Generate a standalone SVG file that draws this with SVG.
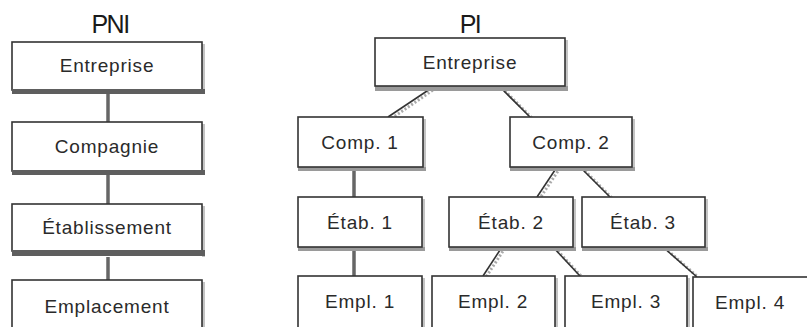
<svg xmlns="http://www.w3.org/2000/svg" width="807" height="327" viewBox="0 0 807 327">
  <style>
    .box { fill: #fff; stroke: #333; stroke-width: 1.6; }
    .sh-b { fill: #5e5e5e; }
    .sh-r { fill: #c4c4c4; }
    .sh-lb { fill: #9a9a9a; }
    .lbl { font-family: "Liberation Sans", Arial, sans-serif; font-size: 19px; fill: #2a2a2a; text-anchor: middle; letter-spacing: 0.8px; }
    .ttl { font-family: "Liberation Sans", Arial, sans-serif; font-size: 25px; fill: #1a1a1a; text-anchor: middle; letter-spacing: -1.5px; }
    .vconn { stroke: #666; stroke-width: 3.5; fill: none; }
    .dconn { stroke: #333; stroke-width: 1.6; fill: none; }
    .dshadow { stroke: #aaa; stroke-width: 3; fill: none; stroke-dasharray: 2 2; }
  </style>

  <!-- column titles -->
  <text class="ttl" x="110" y="33">PNI</text>
  <text class="ttl" x="470" y="33">PI</text>

  <!-- connectors -->
  <g id="connectors">
    <!-- left column -->
    <line class="vconn" x1="108" y1="94" x2="108" y2="122"/>
    <line class="vconn" x1="108" y1="175" x2="108" y2="204"/>
    <line class="vconn" x1="108" y1="257" x2="108" y2="280"/>
    <!-- right tree -->
    <line class="dshadow" x1="436" y1="88" x2="392" y2="118"/>
    <line class="dconn" x1="433" y1="87" x2="388" y2="117"/>
    <line class="dshadow" x1="502" y1="88" x2="532" y2="118"/>
    <line class="dconn" x1="500" y1="87" x2="530" y2="117"/>
    <line class="vconn" x1="354" y1="171" x2="354" y2="197"/>
    <line class="vconn" x1="354" y1="251" x2="354" y2="276"/>
    <line class="dshadow" x1="560" y1="168" x2="540" y2="198"/>
    <line class="dconn" x1="557" y1="167" x2="537" y2="197"/>
    <line class="dshadow" x1="582" y1="168" x2="612" y2="198"/>
    <line class="dconn" x1="580" y1="167" x2="610" y2="197"/>
    <line class="dshadow" x1="505" y1="248" x2="486" y2="277"/>
    <line class="dconn" x1="502" y1="247" x2="483" y2="276"/>
    <line class="dshadow" x1="555" y1="248" x2="582" y2="277"/>
    <line class="dconn" x1="553" y1="247" x2="580" y2="276"/>
    <line class="dshadow" x1="665" y1="248" x2="699" y2="278"/>
    <line class="dconn" x1="663" y1="247" x2="697" y2="277"/>
  </g>

  <!-- left column: PNI -->
  <g id="pni-entreprise">
    <rect class="sh-r" x="202" y="44" width="3" height="50"/>
    <rect class="box" x="12" y="42" width="190" height="48"/>
    <rect class="sh-b" x="12" y="89" width="193" height="5"/>
    <text class="lbl" x="107" y="72">Entreprise</text>
  </g>
  <g id="pni-compagnie">
    <rect class="sh-r" x="202" y="124" width="3" height="51"/>
    <rect class="box" x="12" y="122" width="190" height="49"/>
    <rect class="sh-b" x="12" y="170" width="193" height="5"/>
    <text class="lbl" x="107" y="153">Compagnie</text>
  </g>
  <g id="pni-etablissement">
    <rect class="sh-r" x="202" y="206" width="3" height="51"/>
    <rect class="box" x="12" y="204" width="190" height="47"/>
    <rect class="sh-b" x="12" y="250" width="193" height="6"/>
    <text class="lbl" x="107" y="234">Établissement</text>
  </g>
  <g id="pni-emplacement">
    <rect class="sh-r" x="202" y="282" width="3" height="50"/>
    <rect class="box" x="12" y="280" width="190" height="52"/>
    <text class="lbl" x="107" y="313">Emplacement</text>
  </g>

  <!-- right tree: PI -->
  <g id="pi-entreprise">
    <rect class="sh-r" x="565" y="40" width="3" height="51"/>
    <rect class="sh-lb" x="375" y="86" width="193" height="5"/>
    <rect class="box" x="375" y="38" width="190" height="48"/>
    <text class="lbl" x="470" y="69">Entreprise</text>
  </g>
  <g id="pi-comp1">
    <rect class="sh-r" x="423" y="119" width="3" height="52"/>
    <rect class="sh-lb" x="298" y="167" width="128" height="4"/>
    <rect class="box" x="298" y="117" width="125" height="50"/>
    <text class="lbl" x="360" y="149">Comp. 1</text>
  </g>
  <g id="pi-comp2">
    <rect class="sh-r" x="632" y="119" width="3" height="52"/>
    <rect class="sh-lb" x="510" y="167" width="125" height="4"/>
    <rect class="box" x="510" y="117" width="122" height="50"/>
    <text class="lbl" x="571" y="149">Comp. 2</text>
  </g>
  <g id="pi-etab1">
    <rect class="sh-r" x="422" y="199" width="3" height="52"/>
    <rect class="sh-lb" x="298" y="247" width="127" height="4"/>
    <rect class="box" x="298" y="197" width="124" height="50"/>
    <text class="lbl" x="360" y="229">Étab. 1</text>
  </g>
  <g id="pi-etab2">
    <rect class="sh-r" x="573" y="199" width="3" height="52"/>
    <rect class="sh-lb" x="449" y="247" width="127" height="4"/>
    <rect class="box" x="449" y="197" width="124" height="50"/>
    <text class="lbl" x="511" y="229">Étab. 2</text>
  </g>
  <g id="pi-etab3">
    <rect class="sh-r" x="705" y="199" width="3" height="52"/>
    <rect class="sh-lb" x="582" y="247" width="126" height="4"/>
    <rect class="box" x="582" y="197" width="123" height="50"/>
    <text class="lbl" x="643" y="229">Étab. 3</text>
  </g>
  <g id="pi-empl1">
    <rect class="sh-r" x="422" y="278" width="3" height="52"/>
    <rect class="box" x="298" y="276" width="124" height="52"/>
    <text class="lbl" x="360" y="308">Empl. 1</text>
  </g>
  <g id="pi-empl2">
    <rect class="sh-r" x="555" y="278" width="3" height="52"/>
    <rect class="box" x="432" y="276" width="123" height="52"/>
    <text class="lbl" x="493" y="308">Empl. 2</text>
  </g>
  <g id="pi-empl3">
    <rect class="sh-r" x="687" y="278" width="3" height="52"/>
    <rect class="box" x="565" y="276" width="122" height="52"/>
    <text class="lbl" x="626" y="308">Empl. 3</text>
  </g>
  <g id="pi-empl4">
    <rect class="box" x="693" y="277" width="130" height="52"/>
    <text class="lbl" x="750" y="309">Empl. 4</text>
  </g>
</svg>
